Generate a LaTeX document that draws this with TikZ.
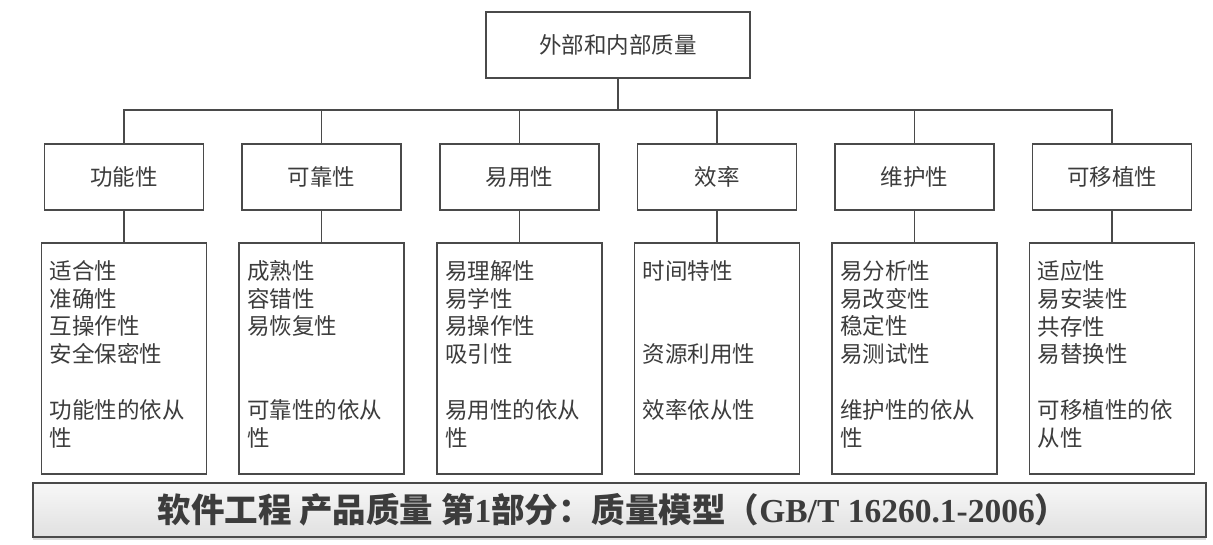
\documentclass[tikz,border=0pt]{standalone}
\usepackage{fontspec}
\setmainfont{Noto Sans CJK SC}
\newfontfamily\latserif{Liberation Serif}
\usetikzlibrary{calc,shadows}
\definecolor{linegray}{HTML}{4A4A4A}
\definecolor{txtgray}{HTML}{3C3C3C}
\begin{document}
\begin{tikzpicture}[x=1pt,y=-1pt,
  conn/.style={draw=linegray, line width=1.7pt},
  box/.style={draw=linegray, line width=1.7pt, fill=white, inner sep=0pt,
    font=\fontsize{22.5}{26}\selectfont, text=txtgray},
  topbox/.style={box, minimum width=264pt, minimum height=66pt},
  catbox/.style={box, minimum width=159pt, minimum height=66pt},
  detbox/.style={box, minimum width=165pt, minimum height=231pt},
  dettext/.style={anchor=north west, inner sep=0pt, text width=155pt, align=left,
    font=\fontsize{22.5}{27.8}\selectfont, text=txtgray},
  banner/.style={draw=linegray, line width=1.7pt, inner sep=0pt,
    minimum width=1173pt, minimum height=54pt,
    top color=gray!6, bottom color=gray!24,
    drop shadow={shadow xshift=0pt, shadow yshift=-2.5pt, opacity=0.3}}
]
\useasboundingbox (0,0) rectangle (1213,545);

% root
\node[topbox] (root) at (618,45) {外部和内部质量};
\coordinate (bus) at (618,110);

% characteristics
\node[catbox] (c1) at (124,177)   {功能性};
\node[catbox] (c2) at (321.5,177) {可靠性};
\node[catbox] (c3) at (519.5,177) {易用性};
\node[catbox] (c4) at (717,177)   {效率};
\node[catbox] (c5) at (914.5,177) {维护性};
\node[catbox] (c6) at (1112,177)  {可移植性};

% sub-characteristics
\node[detbox] (d1) at (124,358.5)   {};
\node[detbox] (d2) at (321.5,358.5) {};
\node[detbox] (d3) at (519.5,358.5) {};
\node[detbox] (d4) at (717,358.5)   {};
\node[detbox] (d5) at (914.5,358.5) {};
\node[detbox] (d6) at (1112,358.5)  {};

\node[dettext] (t1) at ($(d1.north west)+(9,18)$)
  {适合性\\准确性\\互操作性\\安全保密性\\[27.8pt]功能性的依从\\性};
\node[dettext] (t2) at ($(d2.north west)+(9,18)$)
  {成熟性\\容错性\\易恢复性\\[55.6pt]可靠性的依从\\性};
\node[dettext] (t3) at ($(d3.north west)+(9,18)$)
  {易理解性\\易学性\\易操作性\\吸引性\\[27.8pt]易用性的依从\\性};
\node[dettext] (t4) at ($(d4.north west)+(9,18)$)
  {时间特性\\[55.6pt]资源利用性\\[27.8pt]效率依从性};
\node[dettext] (t5) at ($(d5.north west)+(9,18)$)
  {易分析性\\易改变性\\稳定性\\易测试性\\[27.8pt]维护性的依从\\性};
\node[dettext] (t6) at ($(d6.north west)+(9,18)$)
  {适应性\\易安装性\\共存性\\易替换性\\[27.8pt]可移植性的依\\从性};

% tree connectors
\draw[conn] (root.south) -- (bus);
\foreach \i in {1,...,6}{
  \draw[conn] (bus) -| (c\i.north);
  \draw[conn] (c\i.south) -- (d\i.north);
}

% title banner
\node[banner] (title) at (619.25,510) {};
\node[text=txtgray, font=\fontsize{33.5}{36}\selectfont\bfseries] (titletext) at (613,510)
  {软件工程 产品质量 第{\latserif\bfseries 1}部分：质量模型（{\latserif\bfseries GB/T 16260.1-2006}）};
\end{tikzpicture}
\end{document}
